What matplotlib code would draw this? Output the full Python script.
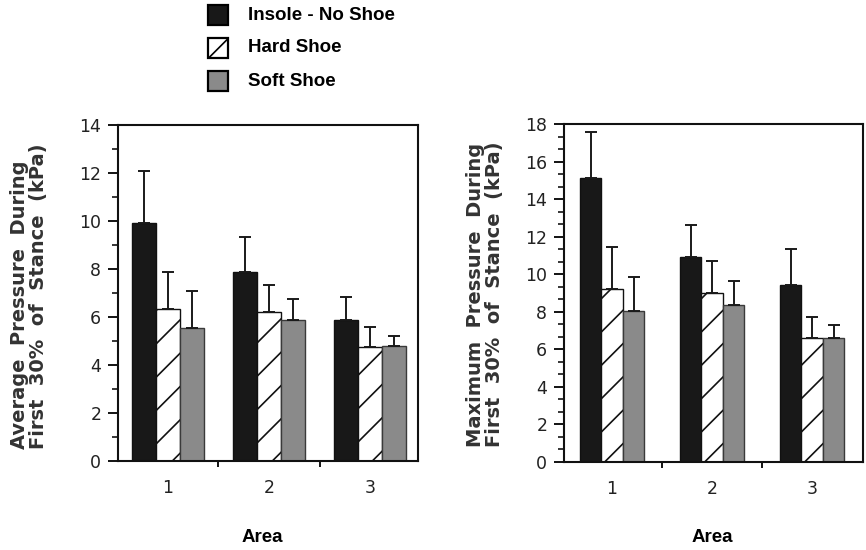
import matplotlib
matplotlib.use("Agg")
import matplotlib.pyplot as plt
from matplotlib.patches import Rectangle
from matplotlib.ticker import MultipleLocator, AutoMinorLocator, NullFormatter
import numpy as np

# ---------------- data ----------------
areas = ["1", "2", "3"]
series = ["Insole - No Shoe", "Hard Shoe", "Soft Shoe"]

avg_insole = [9.90, 7.87, 5.87]
avg_hard = [6.33, 6.22, 4.77]
avg_soft = [5.53, 5.87, 4.80]
avg_insole_sd = [2.18, 1.46, 0.98]
avg_hard_sd = [1.53, 1.10, 0.80]
avg_soft_sd = [1.55, 0.88, 0.41]

max_insole = [15.12, 10.92, 9.41]
max_hard = [9.21, 9.00, 6.60]
max_soft = [8.06, 8.38, 6.60]
max_insole_sd = [2.44, 1.68, 1.93]
max_hard_sd = [2.22, 1.72, 1.12]
max_soft_sd = [1.79, 1.28, 0.68]

avg_ylabel = "Average  Pressure  During\nFirst  30%  of  Stance  (kPa)"
max_ylabel = "Maximum  Pressure  During\nFirst  30%  of  Stance  (kPa)"
xlabel = "Area"

# ---------------- styles ----------------
plt.rcParams["hatch.linewidth"] = 1.2
plt.rcParams["font.family"] = ["DejaVu Sans"]
styles = [
    dict(facecolor="#181818", edgecolor="#111111", hatch=None),
    dict(facecolor="white", edgecolor="#111111", hatch="/"),
    dict(facecolor="#8a8a8a", edgecolor="#3a3a3a", hatch=None),
]
tick_color = "#222222"

fig = plt.figure(figsize=(8.66, 5.5), dpi=100)
W, H = 866, 550


def ax_at(x0, x1, ytop, ybot):
    return fig.add_axes([x0 / W, 1 - ybot / H, (x1 - x0) / W, (ybot - ytop) / H])


def draw_panel(ax, means, sds, width, ylim, major, minor_n, xlim, ylabel):
    x = np.arange(len(areas))
    offsets = [-width, 0.0, width]
    for m, s, off, st in zip(means, sds, offsets, styles):
        ax.bar(x + off, m, width, facecolor=st["facecolor"], edgecolor=st["edgecolor"],
               hatch=st["hatch"], linewidth=1.0, zorder=2)
        ax.errorbar(x + off, m, yerr=[np.zeros(len(s)), s], fmt="none",
                    ecolor="#1a1a1a", elinewidth=1.4, capsize=4.5, capthick=1.4, zorder=3)
    ax.set_xlim(*xlim)
    ax.set_ylim(*ylim)
    ax.yaxis.set_major_locator(MultipleLocator(major))
    ax.yaxis.set_minor_locator(AutoMinorLocator(minor_n))
    ax.set_xticks(x)
    ax.set_xticklabels(areas)
    ax.set_xticks([0.5, 1.5], minor=True)
    ax.tick_params(axis="x", which="major", length=0, pad=13, labelsize=12.5, labelcolor=tick_color)
    ax.tick_params(axis="x", which="minor", direction="out", length=4, width=1.3)
    ax.tick_params(axis="y", which="major", direction="out", length=7, width=1.3, pad=5,
                   labelsize=12.5, labelcolor=tick_color)
    ax.tick_params(axis="y", which="minor", direction="out", length=4, width=1.1)
    for sp in ax.spines.values():
        sp.set_linewidth(1.5)
        sp.set_color("#111111")


ax1 = ax_at(118, 418, 125, 461)
draw_panel(ax1, [avg_insole, avg_hard, avg_soft], [avg_insole_sd, avg_hard_sd, avg_soft_sd],
           0.236, (0, 14), 2, 2, (-0.49, 2.47), avg_ylabel)
ax2 = ax_at(564, 863, 124, 462)
draw_panel(ax2, [max_insole, max_hard, max_soft], [max_insole_sd, max_hard_sd, max_soft_sd],
           0.215, (0, 18), 2, 3, (-0.48, 2.51), max_ylabel)

# y labels (two rotated lines)
fig.text(29 / W, 1 - 296 / H, avg_ylabel, rotation=90, ha="center", va="center",
         fontsize=14, fontweight="bold", color="#333333", linespacing=1.05,
         multialignment="left")
fig.text(485 / W, 1 - 294 / H, max_ylabel, rotation=90, ha="center", va="center",
         fontsize=14, fontweight="bold", color="#333333", linespacing=1.05,
         multialignment="left")

# x labels
for cx in (262, 712):
    fig.text(cx / W, 1 - 538 / H, xlabel, ha="center", va="center",
             fontsize=13.5, fontweight="bold", family=["Liberation Sans", "DejaVu Sans"])

# legend
rows = [15, 48, 81]
for name, st, yc in zip(series, styles, rows):
    r = Rectangle((208 / W, 1 - (yc + 10) / H), 20 / W, 20 / H, transform=fig.transFigure,
                  facecolor=st["facecolor"], edgecolor="#000000", hatch=st["hatch"],
                  linewidth=1.6)
    fig.patches.append(r)
    fig.text(248 / W, 1 - yc / H, name, ha="left", va="center", fontsize=13.5,
             fontweight="bold", family=["Liberation Sans", "DejaVu Sans"])

fig.savefig("out.png", dpi=100)
